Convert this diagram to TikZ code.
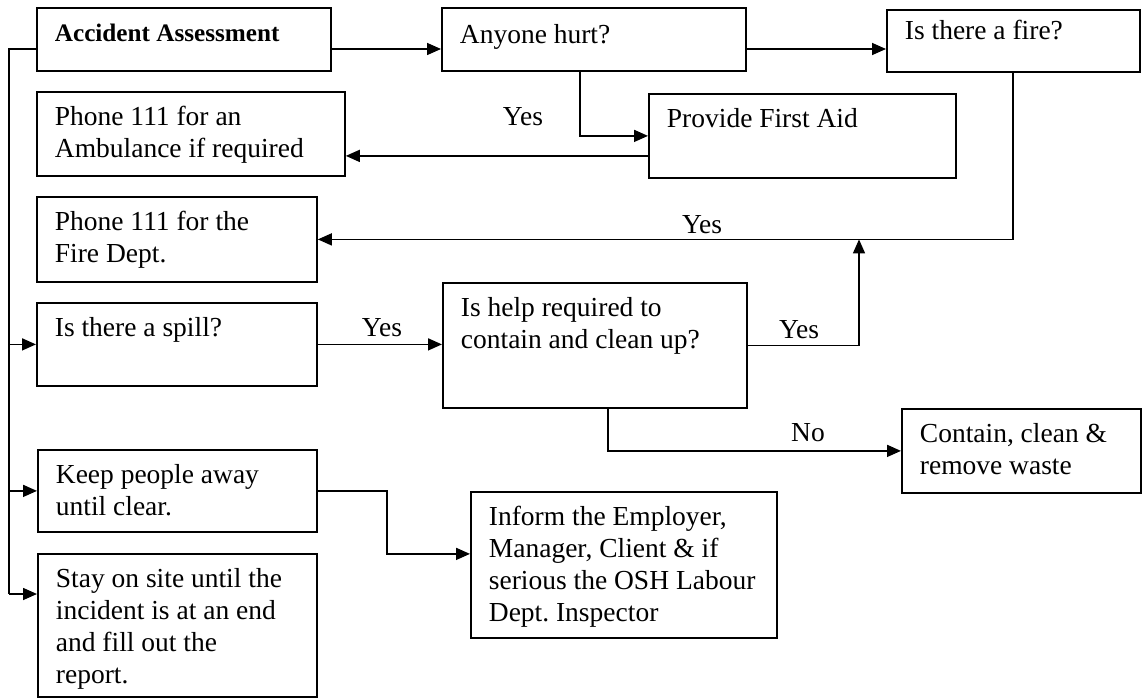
\documentclass[tikz,border=0pt]{standalone}
\usepackage{fontspec}
\setmainfont{Liberation Serif}
\usetikzlibrary{arrows.meta,calc}
\frenchspacing
\newcommand{\bxt}[4][34pt]{\parbox[t][#3][t]{#2}{\raggedright\leftskip=18pt\rule{0pt}{#1}#4}}
\tikzset{
 box/.style={draw=black, line width=1.8pt, inner sep=0pt, anchor=north west, font=\fontsize{27.5pt}{32pt}\selectfont},
 conn/.style={line width=1.6pt},
 arr/.style={conn, -{Triangle[length=14pt,width=12pt]}},
 lbl/.style={font=\fontsize{27.5pt}{32pt}\selectfont, inner sep=0pt},
}
\begin{document}
\begin{tikzpicture}[x=1pt,y=-1pt]
\useasboundingbox (0,0) rectangle (1143,698);
\node[box] (aa) at (36,7) {\bxt{294pt}{63pt}{\bfseries\fontsize{25.2pt}{30pt}\selectfont Accident Assessment}};
\node[box] (hurt) at (441,7) {\bxt[36pt]{304pt}{63pt}{Anyone hurt?}};
\node[box] (fire) at (886,9) {\bxt[30pt]{253pt}{62pt}{Is there a fire?}};
\node[box] (amb) at (36,91) {\bxt{308pt}{84pt}{Phone 111 for an\\Ambulance if required}};
\node[box] (pfa) at (648,93) {\bxt{307pt}{84pt}{Provide First Aid}};
\node[box] (fd) at (36,196) {\bxt{280pt}{85pt}{Phone 111 for the\\Fire Dept.}};
\node[box] (spill) at (36,302) {\bxt{280pt}{83pt}{Is there a spill?}};
\node[box] (help) at (442,282) {\bxt{304pt}{125pt}{Is help required to\\contain and clean up?}};
\node[box] (cont) at (901,408) {\bxt{239pt}{84pt}{Contain, clean \&\\remove waste}};
\node[box] (keep) at (37,449) {\bxt{279pt}{82pt}{Keep people away\\until clear.}};
\node[box] (stay) at (37,553) {\bxt{279pt}{143pt}{Stay on site until the\\incident is at an end\\and fill out the\\report.}};
\node[box] (inf) at (470,491) {\bxt{306pt}{146pt}{Inform the Employer,\\Manager, Client \& if\\serious the OSH Labour\\Dept. Inspector}};
% trunk
\coordinate (tTop) at (9,49);
\coordinate (tStay) at (9,594);
\draw[conn] (aa.west |- tTop) -- (tTop) -- (tStay);
\draw[arr] (tTop |- spill.west) -- (spill.west);
\draw[arr] (tTop |- keep.west) -- (keep.west);
\draw[arr] (tStay) -- (tStay -| stay.west);
% top row
\draw[arr] (aa.east |- tTop) -- (hurt.west |- tTop);
\draw[arr] (hurt.east |- tTop) -- (fire.west |- tTop);
\coordinate (hurtdown) at (580,0);
\draw[arr] (hurt.south -| hurtdown) |- (pfa.west);
\draw[arr] ([yshift=-20pt]pfa.west) -- ([yshift=-20pt]pfa.west -| amb.east);
\coordinate (firedown) at (1013,0);
\draw[arr] (fire.south -| firedown) |- (fd.east);
% spill
\draw[arr] (spill.east) -- (spill.east -| help.west);
\coordinate (yesup) at (859,0);
\draw[arr] (help.east) -| (yesup |- fd.east);
\coordinate (nodown) at (608,0);
\draw[arr] (help.south -| nodown) |- (cont.west);
% keep -> inform
\coordinate (kx) at (387,0);
\coordinate (infin) at ([yshift=11pt]inf.west);
\draw[arr] (keep.east) -| (kx |- infin) -- (infin);
% labels
\node[lbl] (y1) at (523,117) {Yes};
\node[lbl] (y2) at (702,225) {Yes};
\node[lbl] (y3) at (382,328) {Yes};
\node[lbl] (y4) at (799,330) {Yes};
\node[lbl] (n1) at (808,433) {No};
\end{tikzpicture}
\end{document}
